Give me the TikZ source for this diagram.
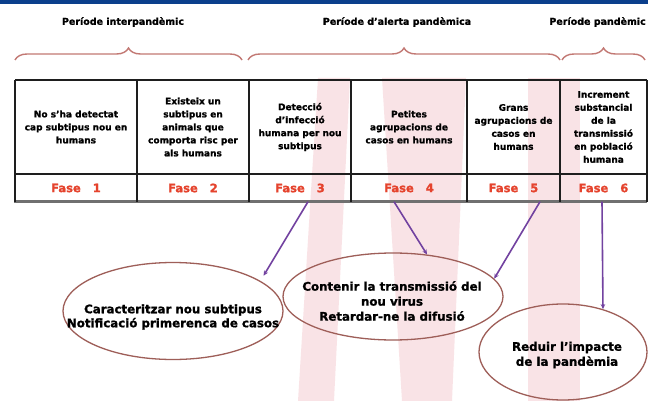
\documentclass[tikz,border=0pt]{standalone}
\usepackage{fontspec}
\setmainfont{DejaVu Sans}[BoldFeatures={FakeBold=1.2}]
\usetikzlibrary{shapes.geometric,decorations.pathreplacing,arrows.meta}
\definecolor{topblue}{HTML}{0B3F8C}
\definecolor{bracecol}{HTML}{C27873}
\definecolor{faseRed}{HTML}{E5432D}
\definecolor{arrowcol}{HTML}{7242A0}
\definecolor{ellcol}{HTML}{9E5E58}
\definecolor{wmpink}{HTML}{F5C9CE}
\definecolor{gridgray}{HTML}{707070}
\definecolor{gridblack}{HTML}{1E1E1E}
\tikzset{
  titletxt/.style={font=\bfseries\fontsize{9.5}{11}\selectfont, text=black, inner sep=0pt},
  celltxt/.style={font=\bfseries\fontsize{9}{13}\selectfont, align=center, inner sep=0pt, text=black},
  fasetxt/.style={font=\bfseries\fontsize{11.5}{13}\selectfont, text=faseRed, minimum height=27pt, inner sep=0pt},
  ell/.style={ellipse, draw=ellcol, line width=1.3pt, inner sep=0pt},
  elltxt/.style={font=\bfseries\fontsize{11.8}{15}\selectfont, align=center, inner sep=0pt, text=black},
  arr/.style={draw=arrowcol, line width=1.6pt, -{Stealth[length=5pt,width=4.5pt]}},
  bracesty/.style={draw=bracecol, line width=1.4pt, decorate, decoration={brace, amplitude=12pt}},
  wmband/.style={fill=wmpink, fill opacity=0.5},
  gridline/.style={draw=gridblack, line width=1.4pt}
}
\begin{document}
\begin{tikzpicture}[x=1pt,y=-1pt]
\useasboundingbox (0,0) rectangle (648,401);
\fill[white] (0,0) rectangle (648,401);
% faint watermark bands
\fill[wmband] (318,78) -- (350,78) -- (334,401) -- (298,401) -- cycle;
\fill[wmband] (382,78) -- (466,78) -- (452,401) -- (402,401) -- cycle;
\fill[wmband] (528,78) -- (580,78) -- (580,401) -- (528,401) -- cycle;
% top bar
\fill[topblue] (0,0) rectangle (648,4.5);
% period titles
\node[titletxt] (t1) at (123,22) {Període interpandèmic};
\node[titletxt] (t2) at (397,22) {Període d'alerta pandèmica};
\node[titletxt, anchor=east] (t3) at (646,22) {Període pandèmic};
% braces
\draw[bracesty] (15,60) -- (242,60);
\draw[bracesty] (248,60) -- (560,60);
\draw[bracesty] (562,60) -- (645,60);
% table grid
\draw[gridline, line width=2pt] (15,80) -- (647,80);
\draw[gridline, line width=2pt] (15,174) -- (647,174);
\draw[draw=gridgray, line width=2.4pt] (14,201.5) -- (647,201.5);
\foreach \x in {15,137,249,351,467,560,647}{
  \draw[gridline] (\x,80) -- (\x,201.5);
}
% header texts
\node[celltxt] (c1) at (76,127) {No s'ha detectat\\cap subtipus nou en\\humans};
\node[celltxt] (c2) at (193,127) {Existeix un\\subtipus en\\animals que\\comporta risc per\\als humans};
\node[celltxt] (c3) at (300,127) {Detecció\\d'infecció\\humana per nou\\subtipus};
\node[celltxt] (c4) at (409,127) {Petites\\agrupacions de\\casos en humans};
\node[celltxt] (c5) at (513.5,127) {Grans\\agrupacions de\\casos en\\humans};
\node[celltxt] (c6) at (603.5,127) {Increment\\substancial\\de la\\transmissió\\en població\\humana};
% phase labels
\node[fasetxt] (f1) at (76,188) {Fase\hspace{12pt}1};
\node[fasetxt] (f2) at (193,188) {Fase\hspace{12pt}2};
\node[fasetxt] (f3) at (300,188) {Fase\hspace{12pt}3};
\node[fasetxt] (f4) at (409,188) {Fase\hspace{12pt}4};
\node[fasetxt] (f5) at (513.5,188) {Fase\hspace{12pt}5};
\node[fasetxt] (f6) at (603.5,188) {Fase\hspace{12pt}6};
% ellipses
\node[ell, minimum width=220pt, minimum height=97pt] (e1) at (173,311) {};
\node[ell, minimum width=220pt, minimum height=87pt] (e2) at (393,296.5) {};
\node[ell, minimum width=168pt, minimum height=96pt] (e3) at (563,352) {};
\node[elltxt, font=\bfseries\fontsize{11.8}{14}\selectfont] (e1t) at (173,317) {Caracteritzar nou subtipus\\Notificació primerenca de casos};
\node[elltxt] (e2t) at (392,301) {Contenir la transmissió del\\nou virus\\Retardar-ne la difusió};
\node[elltxt] (e3t) at (567,355) {Reduir l'impacte\\de la pandèmia};
% connectors
\draw[arr, shorten >=6pt] ([xshift=8pt]f3.south) -- (e1.19);
\draw[arr] ([xshift=-15pt]f4.south) -- (e2.51);
\draw[arr] ([xshift=26.5pt]f5.south) -- (e2.10);
\draw[arr] ([xshift=-1.5pt]f6.south) -- (e3.47);
\end{tikzpicture}
\end{document}
